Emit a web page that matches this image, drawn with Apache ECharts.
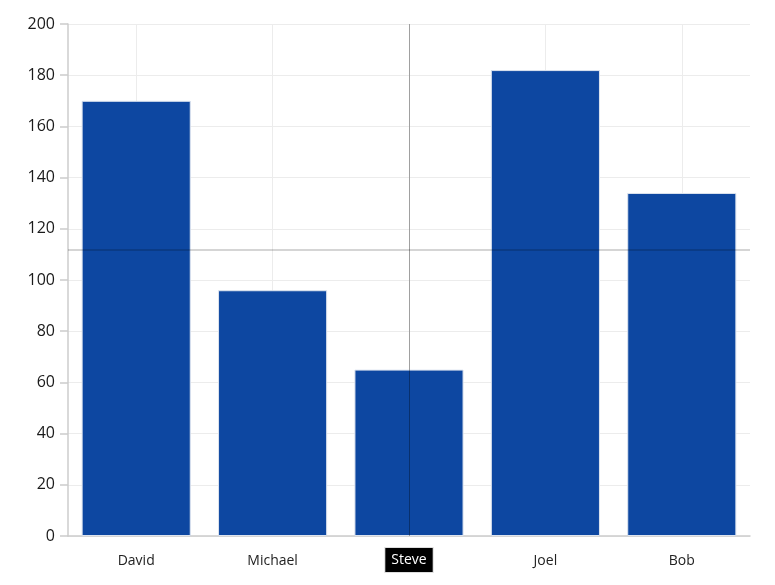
<!DOCTYPE html>
<html>
<head>
<meta charset="utf-8">
<script src="https://cdn.jsdelivr.net/npm/echarts@6/dist/echarts.min.js"></script>
<style>
html, body { margin: 0; padding: 0; background: #fff; }
#main { width: 775px; height: 585px; }
</style>
</head>
<body>
<div id="main"></div>
<script>
var names = ['David', 'Michael', 'Steve', 'Joel', 'Bob'];
var values = [170, 96, 65, 182, 134];
var crossX = 'Steve';
var crossY = 112;

// helper axis: half-band slots so the grid lines fall on category centres
var halfSlots = [];
for (var i = 0; i <= names.length * 2; i++) {
	halfSlots.push('s' + i);
}

var myChart = echarts.init(document.getElementById('main'));
var option = {
	animation: false,
	textStyle: { fontFamily: 'Open Sans' },
	grid: { left: 68, right: 25, top: 24, bottom: 49 },
	xAxis: [{
		type: 'category',
		data: names,
		axisLine: { lineStyle: { color: '#cccccc', width: 1.5 } },
		axisTick: { alignWithLabel: true, length: 7, lineStyle: { color: '#cccccc', width: 1.5 } },
		axisLabel: { color: '#222', fontSize: 14, margin: 18 },
		splitLine: { show: false },
		axisPointer: {
			show: true,
			type: 'line',
			value: crossX,
			status: 'show',
			lineStyle: { color: 'rgba(0,0,0,0.32)', width: 1, type: 'solid' },
			label: {
				show: true,
				backgroundColor: '#000',
				borderColor: '#ddd',
				borderWidth: 1,
				color: '#fff',
				fontSize: 14,
				padding: [5, 6],
				borderRadius: 0,
				margin: 12
			}
		}
	}, {
		type: 'category',
		data: halfSlots,
		boundaryGap: false,
		position: 'bottom',
		axisLine: { show: false },
		axisTick: { show: false },
		axisLabel: { show: false },
		splitLine: {
			show: true,
			interval: function (idx) { return idx % 2 === 1; },
			lineStyle: { color: '#ececec' }
		}
	}],
	yAxis: {
		type: 'value',
		min: 0,
		max: 200,
		interval: 20,
		axisLine: { show: true, lineStyle: { color: '#cccccc', width: 1.5 } },
		axisTick: { show: true, length: 8, lineStyle: { color: '#cccccc', width: 1.5 } },
		axisLabel: { color: '#1a1a1a', fontSize: 16, margin: 13 },
		splitLine: { show: true, lineStyle: { color: '#ececec' } },
		axisPointer: {
			show: true,
			type: 'line',
			value: crossY,
			status: 'show',
			lineStyle: { color: 'rgba(0,0,0,0.22)', width: 1.5, type: 'solid' },
			label: { show: false }
		}
	},
	series: [{
		type: 'bar',
		xAxisIndex: 0,
		data: values,
		barCategoryGap: '20%',
		itemStyle: { color: '#0d47a1', borderColor: '#dde4ef', borderWidth: 1 }
	}]
};
myChart.setOption(option);
</script>
</body>
</html>
